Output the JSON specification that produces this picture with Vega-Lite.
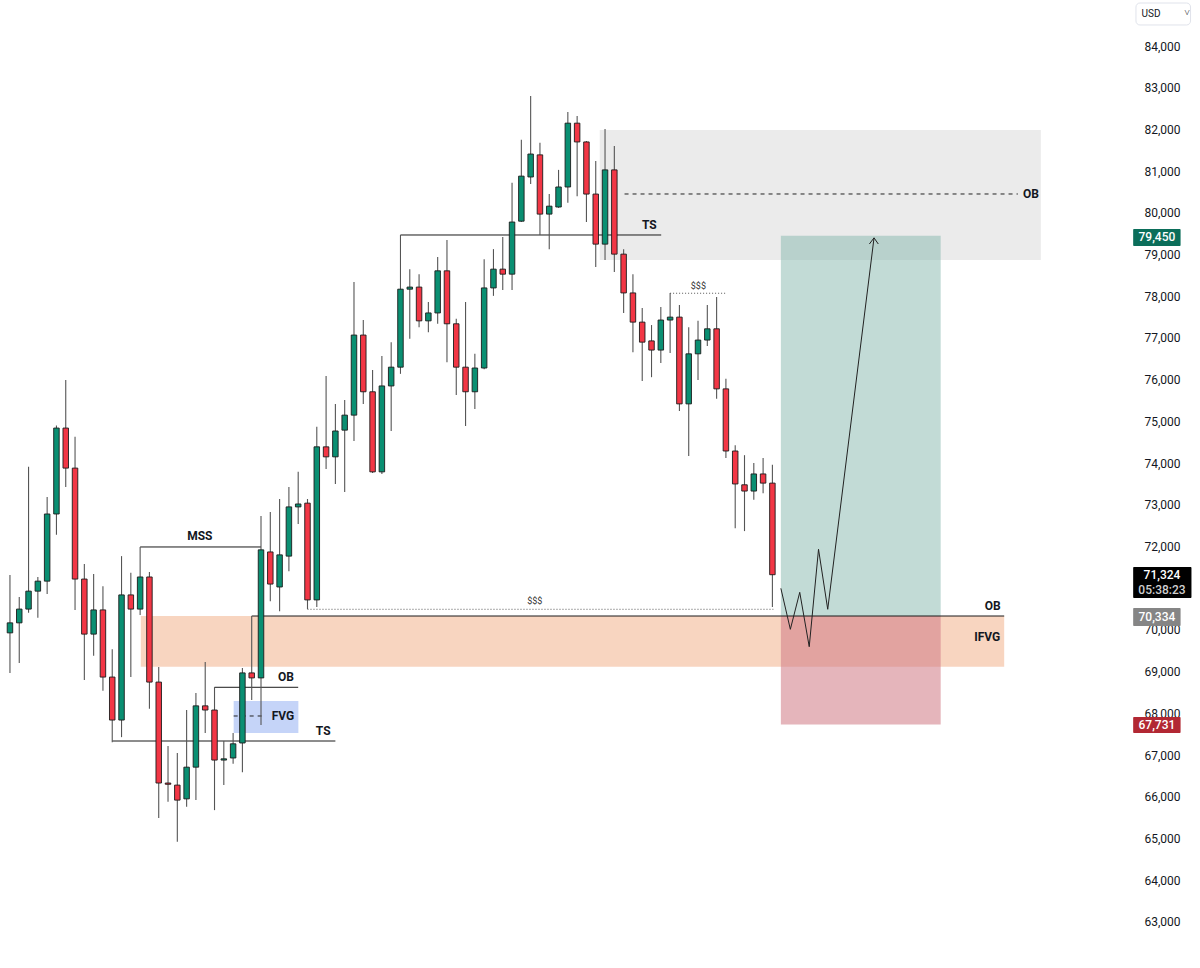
{
  "$schema": "https://vega.github.io/schema/vega-lite/v6.json",
  "width": 1143,
  "height": 968,
  "autosize": {"type": "none"},
  "padding": {"left": 0, "top": 0, "right": 57, "bottom": 0},
  "background": "#ffffff",
  "config": {"view": {"stroke": null}},
  "datasets": {
    "candles": [
      {"i":0,"o":69930,"h":71320,"l":68970,"c":70170},
      {"i":1,"o":70170,"h":70790,"l":69210,"c":70500},
      {"i":2,"o":70500,"h":73910,"l":70410,"c":70930},
      {"i":3,"o":70930,"h":71270,"l":70290,"c":71170},
      {"i":4,"o":71170,"h":73190,"l":70860,"c":72780},
      {"i":5,"o":72780,"h":74900,"l":72280,"c":74840},
      {"i":6,"o":74840,"h":75990,"l":73430,"c":73880},
      {"i":7,"o":73880,"h":74630,"l":70480,"c":71220},
      {"i":8,"o":71220,"h":71580,"l":68800,"c":69900},
      {"i":9,"o":69900,"h":71340,"l":69380,"c":70480},
      {"i":10,"o":70480,"h":71050,"l":68540,"c":68870},
      {"i":11,"o":68870,"h":69540,"l":67310,"c":67840},
      {"i":12,"o":67840,"h":71770,"l":67430,"c":70840},
      {"i":13,"o":70840,"h":71370,"l":68870,"c":70500},
      {"i":14,"o":70500,"h":71990,"l":70360,"c":71270},
      {"i":15,"o":71270,"h":71390,"l":68110,"c":68750},
      {"i":16,"o":68750,"h":69110,"l":65490,"c":66330},
      {"i":17,"o":66330,"h":67220,"l":65880,"c":66300},
      {"i":18,"o":66280,"h":67050,"l":64920,"c":65920},
      {"i":19,"o":65950,"h":68080,"l":65760,"c":66710},
      {"i":20,"o":66710,"h":68490,"l":65920,"c":68180},
      {"i":21,"o":68180,"h":69230,"l":67530,"c":68080},
      {"i":22,"o":68080,"h":68630,"l":65680,"c":66880},
      {"i":23,"o":66880,"h":67340,"l":66280,"c":66910},
      {"i":24,"o":66930,"h":67530,"l":66790,"c":67270},
      {"i":25,"o":67290,"h":69090,"l":66590,"c":68970},
      {"i":26,"o":68970,"h":70334,"l":68320,"c":68850},
      {"i":27,"o":68850,"h":72730,"l":67720,"c":71920},
      {"i":28,"o":71870,"h":72830,"l":70690,"c":71100},
      {"i":29,"o":71030,"h":73140,"l":70450,"c":71800},
      {"i":30,"o":71770,"h":73430,"l":71410,"c":72950},
      {"i":31,"o":72950,"h":73790,"l":72540,"c":73020},
      {"i":32,"o":73040,"h":73140,"l":70500,"c":70720},
      {"i":33,"o":70720,"h":74870,"l":70550,"c":74390},
      {"i":34,"o":74390,"h":76090,"l":73860,"c":74150},
      {"i":35,"o":74150,"h":75420,"l":73500,"c":74770},
      {"i":36,"o":74790,"h":75510,"l":73310,"c":75150},
      {"i":37,"o":75150,"h":78340,"l":74530,"c":77070},
      {"i":38,"o":77070,"h":77430,"l":75420,"c":75710},
      {"i":39,"o":75710,"h":76230,"l":73760,"c":73790},
      {"i":40,"o":73790,"h":76570,"l":73740,"c":75850},
      {"i":41,"o":75850,"h":76900,"l":74770,"c":76300},
      {"i":42,"o":76300,"h":79470,"l":76140,"c":78170},
      {"i":43,"o":78170,"h":78650,"l":76980,"c":78220},
      {"i":44,"o":78220,"h":78530,"l":77260,"c":77410},
      {"i":45,"o":77410,"h":77860,"l":77140,"c":77600},
      {"i":46,"o":77600,"h":78940,"l":77340,"c":78610},
      {"i":47,"o":78610,"h":79350,"l":76420,"c":77340},
      {"i":48,"o":77340,"h":77460,"l":75630,"c":76300},
      {"i":49,"o":76300,"h":77860,"l":74890,"c":75710},
      {"i":50,"o":75710,"h":76620,"l":75300,"c":76280},
      {"i":51,"o":76280,"h":78890,"l":76250,"c":78200},
      {"i":52,"o":78200,"h":79130,"l":78010,"c":78650},
      {"i":53,"o":78650,"h":79420,"l":78150,"c":78530},
      {"i":54,"o":78530,"h":80720,"l":78150,"c":79780},
      {"i":55,"o":79800,"h":81750,"l":79780,"c":80880},
      {"i":56,"o":80860,"h":82800,"l":80690,"c":81410},
      {"i":57,"o":81390,"h":81680,"l":79470,"c":79970},
      {"i":58,"o":79970,"h":80450,"l":79130,"c":80160},
      {"i":59,"o":80140,"h":81030,"l":80120,"c":80620},
      {"i":60,"o":80620,"h":82420,"l":80240,"c":82150},
      {"i":61,"o":82150,"h":82320,"l":80400,"c":81700},
      {"i":62,"o":81700,"h":81720,"l":79780,"c":80450},
      {"i":63,"o":80450,"h":81240,"l":78700,"c":79250},
      {"i":64,"o":79250,"h":82010,"l":78870,"c":81030},
      {"i":65,"o":81030,"h":81600,"l":78580,"c":79010},
      {"i":66,"o":79010,"h":79130,"l":77600,"c":78080},
      {"i":67,"o":78080,"h":78530,"l":76660,"c":77380},
      {"i":68,"o":77380,"h":77720,"l":75970,"c":76900},
      {"i":69,"o":76930,"h":77310,"l":76060,"c":76710},
      {"i":70,"o":76710,"h":77740,"l":76400,"c":77430},
      {"i":71,"o":77430,"h":78080,"l":76640,"c":77500},
      {"i":72,"o":77500,"h":77790,"l":75250,"c":75420},
      {"i":73,"o":75420,"h":77260,"l":74170,"c":76620},
      {"i":74,"o":76620,"h":77410,"l":75990,"c":76950},
      {"i":75,"o":76950,"h":77790,"l":76810,"c":77220},
      {"i":76,"o":77220,"h":77980,"l":75540,"c":75780},
      {"i":77,"o":75780,"h":76020,"l":74120,"c":74290},
      {"i":78,"o":74290,"h":74430,"l":72440,"c":73500},
      {"i":79,"o":73480,"h":74190,"l":72370,"c":73330},
      {"i":80,"o":73330,"h":74000,"l":73120,"c":73740},
      {"i":81,"o":73740,"h":74120,"l":73280,"c":73520},
      {"i":82,"o":73520,"h":73960,"l":70550,"c":71324}
    ],
    "boxes": [
      {"name":"premium","x":63.43,"x2":110.87,"y":81986,"y2":78869},
      {"name":"ifvg","x":14.07,"x2":106.93,"y":70334,"y2":69115},
      {"name":"fvg","x":24.06,"x2":31.02,"y":68297,"y2":67529},
      {"name":"target","x":82.91,"x2":100.1,"y":79450,"y2":70334},
      {"name":"stop","x":82.91,"x2":100.1,"y":70334,"y2":67731}
    ],
    "solidLines": [
      {"x":42,"x2":70.04,"y":79469},
      {"x":14,"x2":27,"y":71989},
      {"x":11,"x2":35,"y":67337},
      {"x":22,"x2":31,"y":68625},
      {"x":26,"x2":106.93,"y":70334}
    ],
    "dashedLines": [
      {"x":66.1,"x2":108.4,"y":80452},
      {"x":24.06,"x2":27.4,"y":67937}
    ],
    "dottedLines": [
      {"x":32,"x2":82.1,"y":70495},
      {"x":71,"x2":77,"y":78072}
    ],
    "path": [
      {"seg":"p","k":0,"x":82.91,"y":70998},
      {"seg":"p","k":1,"x":83.93,"y":70015},
      {"seg":"p","k":2,"x":84.94,"y":70902},
      {"seg":"p","k":3,"x":85.96,"y":69598},
      {"seg":"p","k":4,"x":86.96,"y":71934},
      {"seg":"p","k":5,"x":87.95,"y":70495},
      {"seg":"p","k":6,"x":92.93,"y":79400},
      {"seg":"a","k":0,"x":92.43,"y":79253},
      {"seg":"a","k":1,"x":92.93,"y":79400},
      {"seg":"a","k":2,"x":93.39,"y":79253}
    ],
    "labels": [
      {"t":"OB","x":109.8,"y":80452},
      {"t":"TS","x":68.76,"y":79697},
      {"t":"MSS","x":20.42,"y":72253},
      {"t":"TS","x":33.69,"y":67589},
      {"t":"OB","x":29.69,"y":68872},
      {"t":"FVG","x":29.37,"y":67925},
      {"t":"OB","x":105.7,"y":70574},
      {"t":"IFVG","x":105.1,"y":69826}
    ],
    "smallLabels": [
      {"t":"$$$","x":56.45,"y":70682},
      {"t":"$$$","x":74.04,"y":78246}
    ],
    "tags": [
      {"tag":"tp","x":120.8,"x2":125.9,"y":79613,"y2":79205},
      {"tag":"cur","x":120.8,"x2":127.07,"y":71509,"y2":70766},
      {"tag":"ob","x":120.8,"x2":125.9,"y":70526,"y2":70095},
      {"tag":"sl","x":120.8,"x2":125.9,"y":67913,"y2":67529}
    ],
    "tagTexts": [
      {"t":"79,450","kind":"main","x":123.35,"y":79420},
      {"t":"71,324","kind":"main","x":123.9,"y":71318},
      {"t":"05:38:23","kind":"sub","x":123.9,"y":70958},
      {"t":"70,334","kind":"main","x":123.35,"y":70310},
      {"t":"67,731","kind":"main","x":123.35,"y":67720}
    ],
    "usd": [
      {"x":121.1,"x2":126.97,"y":85031,"y2":84504}
    ],
    "usdText": [
      {"t":"USD","x":121.7,"y":84767},
      {"t":"˅","x":126.3,"y":84790}
    ]
  },
  "layer": [
    {
      "data": {"name": "boxes"},
      "transform": [{"filter": "datum.name == 'premium'"}],
      "mark": {"type": "rect", "color": "#ebebeb"},
      "encoding": {
        "x": {"field": "x", "type": "quantitative", "scale": {"domain": [-0.533, 121.32], "nice": false, "zero": false}, "axis": null},
        "x2": {"field": "x2"},
        "y": {"field": "y", "type": "quantitative", "title": null, "scale": {"domain": [61895, 85103], "nice": false, "zero": false},
              "axis": {"orient": "right", "values": [63000,64000,65000,66000,67000,68000,69000,70000,72000,73000,74000,75000,76000,77000,78000,79000,80000,81000,82000,83000,84000],
                       "format": ",d", "labelAlign": "left", "labelPadding": 1, "ticks": false, "tickSize": 0, "domain": false, "grid": false,
                       "labelFont": "Roboto", "labelFontSize": 12, "labelColor": "#131722", "title": null}},
        "y2": {"field": "y2"}
      }
    },
    {
      "data": {"name": "boxes"},
      "transform": [{"filter": "datum.name == 'ifvg'"}],
      "mark": {"type": "rect", "color": "#f8d5c0"},
      "encoding": {
        "x": {"field": "x", "type": "quantitative", "axis": null},
        "x2": {"field": "x2"},
        "y": {"field": "y", "type": "quantitative", "title": null},
        "y2": {"field": "y2"}
      }
    },
    {
      "data": {"name": "boxes"},
      "transform": [{"filter": "datum.name == 'fvg'"}],
      "mark": {"type": "rect", "color": "#c5d4f8"},
      "encoding": {
        "x": {"field": "x", "type": "quantitative", "axis": null},
        "x2": {"field": "x2"},
        "y": {"field": "y", "type": "quantitative", "title": null},
        "y2": {"field": "y2"}
      }
    },
    {
      "data": {"name": "boxes"},
      "transform": [{"filter": "datum.name == 'target'"}],
      "mark": {"type": "rect", "color": "#85b7ad", "opacity": 0.5},
      "encoding": {
        "x": {"field": "x", "type": "quantitative", "axis": null},
        "x2": {"field": "x2"},
        "y": {"field": "y", "type": "quantitative", "title": null},
        "y2": {"field": "y2"}
      }
    },
    {
      "data": {"name": "boxes"},
      "transform": [{"filter": "datum.name == 'stop'"}],
      "mark": {"type": "rect", "color": "#d17d88", "opacity": 0.57},
      "encoding": {
        "x": {"field": "x", "type": "quantitative", "axis": null},
        "x2": {"field": "x2"},
        "y": {"field": "y", "type": "quantitative", "title": null},
        "y2": {"field": "y2"}
      }
    },
    {
      "data": {"name": "solidLines"},
      "mark": {"type": "rule", "color": "#1a1a1a", "strokeWidth": 1},
      "encoding": {
        "x": {"field": "x", "type": "quantitative", "axis": null},
        "x2": {"field": "x2"},
        "y": {"field": "y", "type": "quantitative", "title": null}
      }
    },
    {
      "data": {"name": "dashedLines"},
      "mark": {"type": "rule", "color": "#222222", "strokeWidth": 1, "strokeDash": [4, 4]},
      "encoding": {
        "x": {"field": "x", "type": "quantitative", "axis": null},
        "x2": {"field": "x2"},
        "y": {"field": "y", "type": "quantitative", "title": null}
      }
    },
    {
      "data": {"name": "dottedLines"},
      "mark": {"type": "rule", "color": "#555555", "strokeWidth": 1, "strokeDash": [1, 2]},
      "encoding": {
        "x": {"field": "x", "type": "quantitative", "axis": null},
        "x2": {"field": "x2"},
        "y": {"field": "y", "type": "quantitative", "title": null}
      }
    },
    {
      "data": {"name": "candles"},
      "mark": {"type": "rule", "color": "#555555", "strokeWidth": 1.1},
      "encoding": {
        "x": {"field": "i", "type": "quantitative", "axis": null},
        "y": {"field": "l", "type": "quantitative", "title": null},
        "y2": {"field": "h"}
      }
    },
    {
      "data": {"name": "candles"},
      "mark": {"type": "bar", "size": 5.5, "stroke": "#1c1c1c", "strokeWidth": 0.9},
      "encoding": {
        "x": {"field": "i", "type": "quantitative", "axis": null},
        "y": {"field": "o", "type": "quantitative", "title": null},
        "y2": {"field": "c"},
        "fill": {"condition": {"test": "datum.c >= datum.o", "value": "#0a8f72"}, "value": "#f23645"}
      }
    },
    {
      "data": {"name": "path"},
      "mark": {"type": "line", "color": "#222222", "strokeWidth": 1},
      "encoding": {
        "x": {"field": "x", "type": "quantitative", "axis": null},
        "y": {"field": "y", "type": "quantitative", "title": null},
        "detail": {"field": "seg"},
        "order": {"field": "k"}
      }
    },
    {
      "data": {"name": "labels"},
      "mark": {"type": "text", "font": "Roboto", "fontSize": 12, "fontWeight": "bold", "color": "#131722", "align": "center", "baseline": "middle"},
      "encoding": {
        "x": {"field": "x", "type": "quantitative", "axis": null},
        "y": {"field": "y", "type": "quantitative", "title": null},
        "text": {"field": "t"}
      }
    },
    {
      "data": {"name": "smallLabels"},
      "mark": {"type": "text", "font": "Roboto", "fontSize": 9, "color": "#333333", "align": "center", "baseline": "middle"},
      "encoding": {
        "x": {"field": "x", "type": "quantitative", "axis": null},
        "y": {"field": "y", "type": "quantitative", "title": null},
        "text": {"field": "t"}
      }
    },
    {
      "data": {"name": "tags"},
      "mark": {"type": "rect", "cornerRadius": 1},
      "encoding": {
        "x": {"field": "x", "type": "quantitative", "axis": null},
        "x2": {"field": "x2"},
        "y": {"field": "y", "type": "quantitative", "title": null},
        "y2": {"field": "y2"},
        "color": {"field": "tag", "type": "nominal", "scale": {"domain": ["tp", "cur", "ob", "sl"], "range": ["#0b6e5a", "#000000", "#858585", "#b22833"]}, "legend": null}
      }
    },
    {
      "data": {"name": "tagTexts"},
      "mark": {"type": "text", "font": "Roboto", "fontSize": 12, "fontWeight": 500, "align": "center", "baseline": "middle"},
      "encoding": {
        "x": {"field": "x", "type": "quantitative", "axis": null},
        "y": {"field": "y", "type": "quantitative", "title": null},
        "text": {"field": "t"},
        "fill": {"condition": {"test": "datum.kind == 'sub'", "value": "#cfcfcf"}, "value": "#ffffff"}
      }
    },
    {
      "data": {"name": "usd"},
      "mark": {"type": "rect", "fill": "#ffffff", "stroke": "#e0e3eb", "strokeWidth": 1, "cornerRadius": 4},
      "encoding": {
        "x": {"field": "x", "type": "quantitative", "axis": null},
        "x2": {"field": "x2"},
        "y": {"field": "y", "type": "quantitative", "title": null},
        "y2": {"field": "y2"}
      }
    },
    {
      "data": {"name": "usdText"},
      "mark": {"type": "text", "font": "Roboto", "fontSize": 10, "color": "#131722", "align": "left", "baseline": "middle"},
      "encoding": {
        "x": {"field": "x", "type": "quantitative", "axis": null},
        "y": {"field": "y", "type": "quantitative", "title": null},
        "text": {"field": "t"}
      }
    }
  ]
}
